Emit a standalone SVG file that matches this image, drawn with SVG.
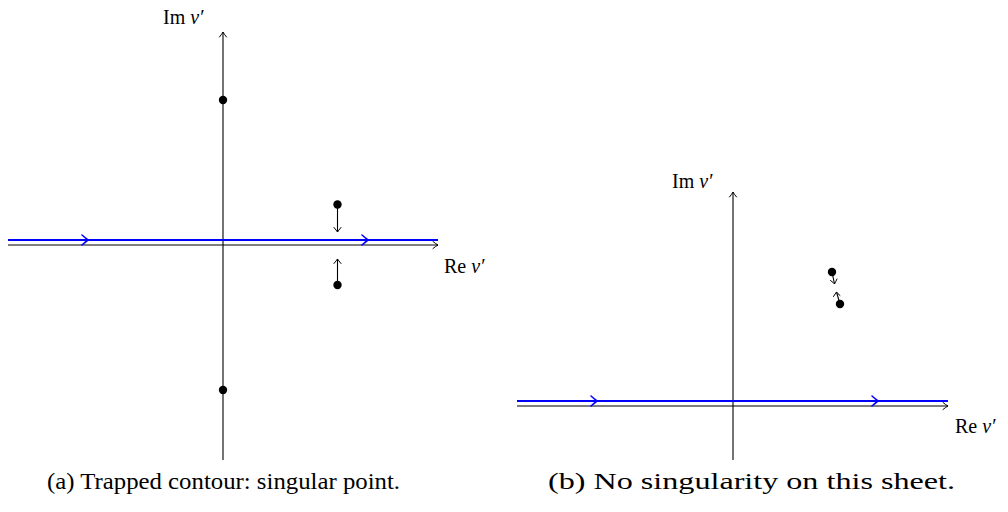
<svg xmlns="http://www.w3.org/2000/svg" width="1008" height="512" viewBox="0 0 1008 512">
<style>
.ax{stroke:#000;stroke-width:1.1;fill:none}
.ah{stroke:#000;stroke-width:1;fill:none;stroke-linecap:round;stroke-linejoin:round}
.bl{stroke:#0000ff;stroke-width:2;fill:none}
.bh{stroke:#0000ff;stroke-width:1.6;fill:none;stroke-linecap:round;stroke-linejoin:round}
</style>
<rect width="1008" height="512" fill="#fff"/>
<g id="connectors">
  <line class="ax" x1="8" y1="245" x2="438" y2="245"/>
  <path class="ah" d="M433,241.5 Q436,244 438,245 Q436,246 433,248.5"/>
  <line class="ax" x1="223" y1="460" x2="223" y2="32"/>
  <path class="ah" d="M219.5,37 Q222,34 223,32 Q224,34 226.5,37"/>
  <line class="bl" x1="8" y1="240" x2="438" y2="240"/>
  <path class="bh" d="M82,235 Q86,238.5 88,240 Q86,241.5 82,245"/>
  <path class="bh" d="M362,235 Q366,238.5 368,240 Q366,241.5 362,245"/>
  <line class="ax" x1="337.5" y1="205" x2="337.5" y2="232"/>
  <path class="ah" d="M334,227.5 Q336.5,230.5 337.5,232 Q338.5,230.5 341,227.5"/>
  <line class="ax" x1="337.5" y1="285" x2="337.5" y2="259"/>
  <path class="ah" d="M334,263.5 Q336.5,260.5 337.5,259 Q338.5,260.5 341,263.5"/>
  <line class="ax" x1="517" y1="406" x2="948" y2="406"/>
  <path class="ah" d="M943,402.5 Q946,405 948,406 Q946,407 943,409.5"/>
  <line class="ax" x1="733" y1="460" x2="733" y2="192"/>
  <path class="ah" d="M729.5,197 Q732,194 733,192 Q734,194 736.5,197"/>
  <line class="bl" x1="517" y1="401" x2="948" y2="401"/>
  <path class="bh" d="M591,396 Q595,399.5 597,401 Q595,402.5 591,406"/>
  <path class="bh" d="M872,396 Q876,399.5 878,401 Q876,402.5 872,406"/>
  <line class="ax" x1="832" y1="272" x2="834.5" y2="284"/>
  <path class="ah" d="M830.5,280.5 Q833.5,282.5 834.5,284 Q835.5,282 837,279"/>
  <line class="ax" x1="840" y1="304" x2="836.5" y2="292"/>
  <path class="ah" d="M833.5,296.5 Q835.5,293.5 836.5,292 Q837.5,293.5 840,295.5"/>
</g>
<g id="node-left-top"><circle cx="223" cy="100" r="4.2" fill="#000"/></g>
<g id="node-left-bottom"><circle cx="223" cy="390" r="4.2" fill="#000"/></g>
<g id="node-left-upper"><circle cx="337.5" cy="204.5" r="4.2" fill="#000"/></g>
<g id="node-left-lower"><circle cx="337.5" cy="285" r="4.2" fill="#000"/></g>
<g id="node-right-upper"><circle cx="832" cy="272" r="4.2" fill="#000"/></g>
<g id="node-right-lower"><circle cx="840" cy="304" r="4.2" fill="#000"/></g>
<g id="labels" font-family="Liberation Serif, serif" fill="#000">
  <text font-size="20" x="163" y="24">Im <tspan font-style="italic">ν′</tspan></text>
  <text font-size="20" x="444" y="273">Re <tspan font-style="italic">ν′</tspan></text>
  <text font-size="20" x="672" y="188">Im <tspan font-style="italic">ν′</tspan></text>
  <text font-size="20" x="955" y="433">Re <tspan font-style="italic">ν′</tspan></text>
  <text font-size="24" x="47" y="489" textLength="353" lengthAdjust="spacingAndGlyphs">(a) Trapped contour: singular point.</text>
  <text font-size="24" x="548" y="489" textLength="407" lengthAdjust="spacingAndGlyphs">(b) No singularity on this sheet.</text>
</g>
</svg>
